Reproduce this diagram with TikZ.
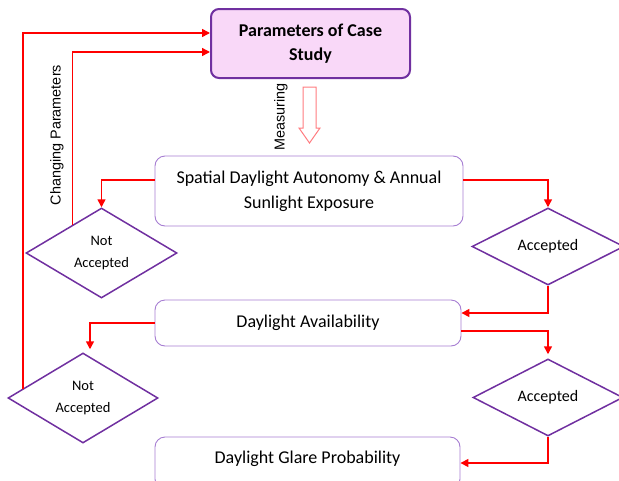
\documentclass[tikz,border=0pt]{standalone}
\usepackage{fontspec}
\setmainfont{Carlito}
\newfontfamily\arialfont{Liberation Sans}
\usepackage{xcolor}
\usepackage{tikz}
\usetikzlibrary{arrows.meta,shapes.geometric}

\definecolor{frame}{HTML}{7030A0}
\definecolor{lightframe}{HTML}{A67DD2}
\definecolor{paramfill}{HTML}{F9D8F8}
\definecolor{measure}{HTML}{FF7C80}

\begin{document}
\begin{tikzpicture}[
  x=1pt, y=-1pt,
  every node/.style={font=\fontsize{18}{25}\selectfont},
  param/.style={rectangle, draw=frame, line width=2pt, fill=paramfill,
                rounded corners=8pt, align=center,
                minimum width=199pt, minimum height=69pt,
                font=\bfseries\fontsize{18}{24}\selectfont},
  block/.style={rectangle, draw=lightframe, line width=0.9pt,
                rounded corners=10pt, align=center},
  check/.style={diamond, draw=frame, line width=1.5pt, align=center,
                inner sep=0pt, font=\fontsize{16}{22}\selectfont},
  side/.style={font=\arialfont\fontsize{14.4}{17}\selectfont, rotate=90},
  arr/.style={-{Triangle[length=8pt,width=8pt]}, red, line width=1.5pt},
]
\clip (0,0) rectangle (619,480);

\node[param] (param) at (310.5,43.5) {Parameters of Case\\Study};
\node[block, minimum width=308pt, minimum height=70pt]
                            (sda)   at (309,191)
                                    {Spatial Daylight Autonomy \& Annual\\
                                     Sunlight Exposure};
\node[block, minimum width=306pt, minimum height=46pt]
                            (avail) at (308,323) {Daylight Availability};
\node[block, minimum width=305pt, minimum height=52pt, text depth=12pt]
                            (glare) at (307.5,463) {Daylight Glare Probability};

\node[check, minimum width=151pt, minimum height=90pt, font=\fontsize{14.5}{22}\selectfont]
                            (na1)   at (101.5,253) {Not\\Accepted};
\node[check, minimum width=152pt, minimum height=77pt]
                            (a1)    at (548,246.5) {Accepted};
\node[check, minimum width=150pt, minimum height=90pt, font=\fontsize{14.5}{22}\selectfont]
                            (na2)   at (83,398) {Not\\Accepted};
\node[check, minimum width=150pt, minimum height=77pt]
                            (a2)    at (548,397.5) {Accepted};

\node[side] (measuring) at (281,117) {Measuring};
\node[side] (changing)  at (57,135)  {Changing Parameters};

% hollow block arrow under the case study box
\draw[measure, line width=1pt, fill=white]
  (303,87) -- (316,87) -- (316,128) -- (320,128) -- (309.5,143)
  -- (299,128) -- (303,128) -- cycle;

\draw[arr] ([yshift=11pt]sda.west) -| (na1.north);
\draw[arr] ([yshift=11pt]sda.east) -| (a1.north);
\draw[arr] (a1.south) |- ([yshift=10pt]avail.east);
\draw[arr] (avail.west) -| ([xshift=7pt,yshift=3pt]na2.north);
\draw[arr] ([yshift=-8pt]avail.east) -| ([yshift=4pt]a2.north);
\draw[arr] (a2.south) |- (glare.east);
\draw[arr] (na1.136) |- ([yshift=-8.5pt]param.west);
\draw[arr] (na2.171) |- ([yshift=10.5pt]param.west);
\end{tikzpicture}
\end{document}
